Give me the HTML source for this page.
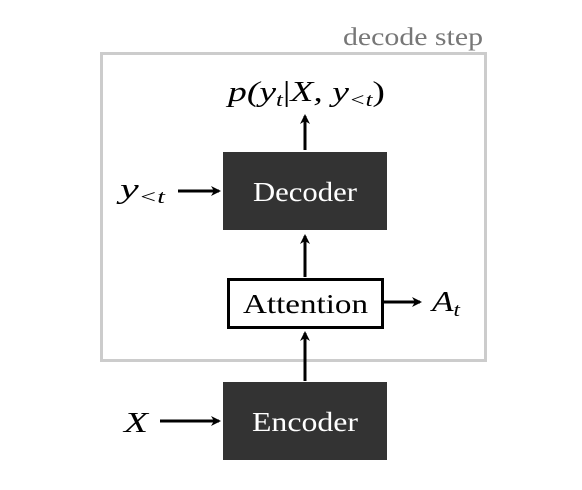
<!DOCTYPE html>
<html><head><meta charset="utf-8"><style>
html,body{margin:0;padding:0;background:#fff;width:582px;height:490px;overflow:hidden}
svg text{font-family:"Liberation Serif",serif}
</style></head><body>
<svg width="582" height="490" viewBox="0 0 582 490">
<defs><marker id="ah" markerWidth="10" markerHeight="10" refX="8" refY="5" orient="auto" markerUnits="userSpaceOnUse"><path d="M0,0 L10,5 L0,10 L3,5 Z" fill="#000"/></marker></defs>
<rect x="101.5" y="53.5" width="384" height="307" fill="none" stroke="#cccccc" stroke-width="3"/>
<text x="343" y="45" textLength="140" lengthAdjust="spacingAndGlyphs" font-size="25" fill="#777">decode step</text>
<text x="228" y="101" textLength="157" lengthAdjust="spacingAndGlyphs" font-size="29" font-style="italic">p(y<tspan font-size="19" dy="5">t</tspan><tspan dy="-5" font-style="normal">|</tspan>X, y<tspan font-size="19" dy="5">&lt;t</tspan><tspan dy="-5" font-style="normal">)</tspan></text>
<line x1="305" y1="150" x2="305" y2="116" stroke="#000" stroke-width="3" marker-end="url(#ah)"/>
<rect x="223" y="152" width="164" height="78" fill="#333"/>
<text x="253" y="201" textLength="104" lengthAdjust="spacingAndGlyphs" font-size="27" fill="#fff">Decoder</text>
<text x="120" y="198" textLength="45" lengthAdjust="spacingAndGlyphs" font-size="29" font-style="italic">y<tspan font-size="19" dy="5">&lt;t</tspan></text>
<line x1="178" y1="191" x2="219" y2="191" stroke="#000" stroke-width="3" marker-end="url(#ah)"/>
<line x1="305" y1="277" x2="305" y2="236" stroke="#000" stroke-width="3" marker-end="url(#ah)"/>
<rect x="228.5" y="279.5" width="154" height="48" fill="#fff" stroke="#000" stroke-width="3"/>
<text x="243" y="313" textLength="125" lengthAdjust="spacingAndGlyphs" font-size="27">Attention</text>
<line x1="384" y1="302" x2="420" y2="302" stroke="#000" stroke-width="3" marker-end="url(#ah)"/>
<text x="432" y="311" textLength="28" lengthAdjust="spacingAndGlyphs" font-size="29" font-style="italic">A<tspan font-size="19" dy="5">t</tspan></text>
<line x1="305" y1="381" x2="305" y2="333" stroke="#000" stroke-width="3" marker-end="url(#ah)"/>
<rect x="223" y="382" width="164" height="78" fill="#333"/>
<text x="252" y="431" textLength="106" lengthAdjust="spacingAndGlyphs" font-size="27" fill="#fff">Encoder</text>
<text x="124" y="432" textLength="24" lengthAdjust="spacingAndGlyphs" font-size="29" font-style="italic">X</text>
<line x1="160" y1="421" x2="219" y2="421" stroke="#000" stroke-width="3" marker-end="url(#ah)"/>
</svg>
</body></html>
